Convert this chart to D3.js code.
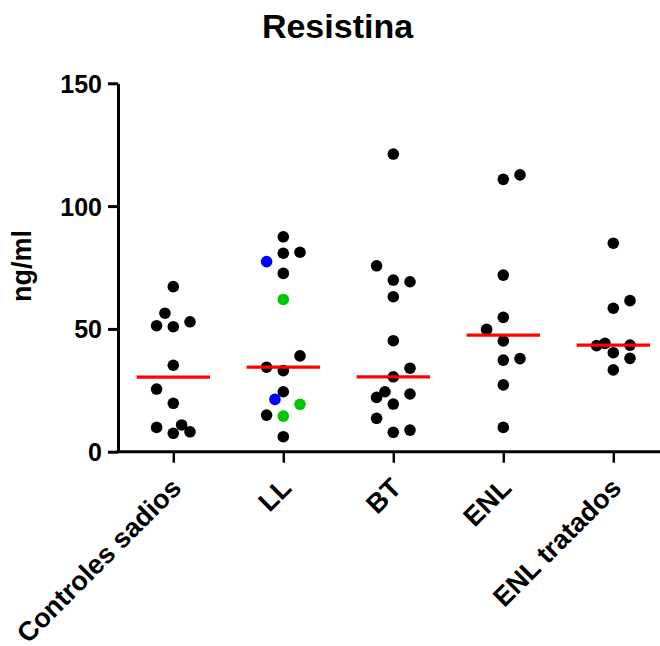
<!DOCTYPE html>
<html>
<head>
<meta charset="utf-8">
<script src="https://cdn.jsdelivr.net/npm/d3@7"></script>
<style>
  html, body { margin: 0; padding: 0; background: #fff; }
  svg { display: block; font-family: "Liberation Sans", Arial, sans-serif; font-weight: bold; }
</style>
</head>
<body>
<div id="chart"></div>
<script>
// Categories and values (ng/ml); each point is [value, slot offset, colour key]
const categories = ["Controles sadios", "LL", "BT", "ENL", "ENL tratados"];

const controles = [
  [67.2, 0], [56.4, -0.5], [51.3, -1], [50.9, 0], [52.9, 1], [35.2, 0],
  [25.5, -1], [19.7, 0], [9.9, -1], [7.5, 0], [10.9, 0.5], [8.1, 1]
];
const ll = [
  [87.5, 0], [80.8, 0], [81.2, 1], [77.4, -1, "b"], [72.6, 0], [62.0, 0, "g"],
  [39.0, 1], [34.4, -1], [33.0, 0], [24.4, 0], [21.3, -0.5, "b"], [19.3, 1, "g"],
  [14.9, -1], [14.5, 0, "g"], [6.1, 0]
];
const bt = [
  [121.2, 0], [75.7, -1], [69.9, 0], [69.2, 1], [63.1, 0], [45.2, 0],
  [34.0, 1], [30.5, 0], [24.4, -0.5], [22.1, -1], [23.5, 1], [19.4, 0],
  [13.6, -1], [7.9, 0], [8.8, 1]
];
const enl = [
  [110.9, 0], [112.7, 1], [71.9, 0], [54.7, 0], [49.8, -1], [45.1, 0],
  [37.3, 0], [37.9, 1], [27.2, 0], [9.9, 0]
];
const enlTratados = [
  [84.9, 0], [61.5, 1], [58.4, 0], [43.2, -1], [44.1, -0.5], [43.4, 1],
  [40.3, 0], [38.0, 1], [33.3, 0]
];
const groups = [controles, ll, bt, enl, enlTratados];

const yTicks = [0, 50, 100, 150];
const colours = { k: "#000000", b: "#0000ff", g: "#00c800" };

const width = 660;
const height = 646;
const axisLeftX = 118;
const axisBottomY = 451.7;

const svg = d3
  .select("#chart")
  .append("svg")
  .attr("width", width)
  .attr("height", height)
  .attr("viewBox", `0 0 ${width} ${height}`);

const yScale = d3.scaleLinear().domain([0, 150]).range([axisBottomY, 83.3]);
const xScale = d3.scalePoint().domain(categories).range([173.3, 613.3]);
const slot = d3.scaleLinear().domain([-1, 1]).range([-16.7, 16.7]);

// Title
svg
  .append("text")
  .attr("x", 337.5)
  .attr("y", 38.3)
  .attr("text-anchor", "middle")
  .style("font-size", "34px")
  .text("Resistina");

// Y axis
const yAxis = svg
  .append("g")
  .attr("transform", `translate(${axisLeftX}, 0)`)
  .call(
    d3.axisLeft(yScale).tickValues(yTicks).tickSize(10).tickSizeOuter(0).tickPadding(6)
  );
yAxis.select(".domain").attr("stroke-width", 3);
yAxis.selectAll(".tick line").attr("stroke-width", 3);
yAxis
  .selectAll(".tick text")
  .style("font-size", "25px")
  .style("font-family", "inherit")
  .style("font-weight", "bold")
  .attr("fill", "#000")
  .attr("dy", "0.36em");

svg
  .append("text")
  .attr("transform", "translate(31, 266) rotate(-90)")
  .attr("text-anchor", "middle")
  .style("font-size", "27px")
  .text("ng/ml");

// X axis
svg
  .append("line")
  .attr("x1", axisLeftX - 1.5)
  .attr("x2", width)
  .attr("y1", axisBottomY)
  .attr("y2", axisBottomY)
  .attr("stroke", "#000")
  .attr("stroke-width", 3);

const xAxis = svg
  .append("g")
  .attr("transform", `translate(0, ${axisBottomY})`)
  .call(d3.axisBottom(xScale).tickSize(11).tickSizeOuter(0));
xAxis.select(".domain").remove();
xAxis.selectAll(".tick line").attr("stroke-width", 2.5);
xAxis
  .selectAll(".tick text")
  .attr("text-anchor", "end")
  .attr("transform", "translate(9, 38) rotate(-45)")
  .attr("x", 0)
  .attr("y", 0)
  .attr("dy", 0)
  .style("font-size", "27px")
  .style("font-family", "inherit")
  .style("font-weight", "bold")
  .attr("fill", "#000");

// Points
const points = groups.flatMap((g, i) =>
  g.map(([value, offset, c]) => ({
    category: categories[i],
    value,
    offset,
    colour: colours[c || "k"],
  }))
);

svg
  .append("g")
  .attr("class", "dots")
  .selectAll("circle")
  .data(points)
  .join("circle")
  .attr("cx", (d) => xScale(d.category) + slot(d.offset))
  .attr("cy", (d) => yScale(d.value))
  .attr("r", 5.8)
  .attr("fill", (d) => d.colour);

// Median lines
const medians = groups.map((g, i) => ({
  category: categories[i],
  median: d3.median(g, (d) => d[0]),
}));

svg
  .append("g")
  .attr("class", "medians")
  .selectAll("line")
  .data(medians)
  .join("line")
  .attr("x1", (d) => xScale(d.category) - 36.7)
  .attr("x2", (d) => xScale(d.category) + 36.7)
  .attr("y1", (d) => yScale(d.median))
  .attr("y2", (d) => yScale(d.median))
  .attr("stroke", "#ff0000")
  .attr("stroke-width", 3.3);
</script>
</body>
</html>
